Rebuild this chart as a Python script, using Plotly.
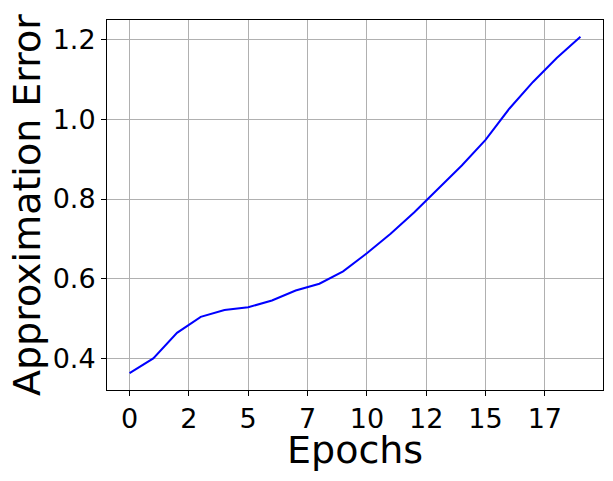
import plotly.graph_objects as go

epochs = list(range(20))
approx_error = [0.364, 0.401, 0.465, 0.505, 0.522, 0.529, 0.546, 0.571, 0.588, 0.619,
                0.664, 0.713, 0.767, 0.825, 0.884, 0.948, 1.026, 1.093, 1.153, 1.206]
x_tickvals = [0, 2.5, 5, 7.5, 10, 12.5, 15, 17.5]
x_ticktext = ["0", "2", "5", "7", "10", "12", "15", "17"]
y_tickvals = [0.4, 0.6, 0.8, 1.0, 1.2]
y_ticktext = ["0.4", "0.6", "0.8", "1.0", "1.2"]
x_label = "Epochs"
y_label = "Approximation Error"

xmin, xmax = min(epochs), max(epochs)
ymin, ymax = min(approx_error), max(approx_error)
xm = 0.05 * (xmax - xmin)
ym = 0.05 * (ymax - ymin)

FONT = "DejaVu Sans"

fig = go.Figure()
fig.add_trace(go.Scatter(x=epochs, y=approx_error, mode="lines",
                         line=dict(color="#0000ff", width=2), showlegend=False))

axis_common = dict(
    showline=True, linecolor="black", linewidth=1, mirror=True,
    ticks="outside", ticklen=5, tickwidth=1, tickcolor="black",
    showgrid=True, gridcolor="#b0b0b0", gridwidth=1,
    zeroline=False,
    tickfont=dict(family=FONT, size=27, color="black"),
)

fig.update_xaxes(range=[xmin - xm, xmax + xm], tickmode="array",
                 tickvals=x_tickvals, ticktext=x_ticktext, **axis_common)
fig.update_yaxes(range=[ymin - ym, ymax + ym], tickmode="array",
                 tickvals=y_tickvals, ticktext=y_ticktext, **axis_common)

# axis titles as annotations for precise placement
fig.add_annotation(text=x_label, xref="paper", yref="paper", x=0.5, y=0,
                   xanchor="center", yanchor="middle", yshift=-60, showarrow=False,
                   borderpad=0,
                   font=dict(family=FONT, size=38, color="black"))
fig.add_annotation(text=y_label, xref="paper", yref="paper", x=0, y=0.5,
                   xanchor="center", yanchor="middle", xshift=-80, textangle=-90,
                   showarrow=False, borderpad=0,
                   font=dict(family=FONT, size=38, color="black"))

# the page body adds an 8px offset, so the figure is sized to the visible area
fig.update_layout(
    width=605, height=473,
    margin=dict(l=99, r=10, t=12, b=91, autoexpand=False),
    paper_bgcolor="white", plot_bgcolor="white",
    font=dict(family=FONT, color="black"),
)

fig.write_html("out.html")
